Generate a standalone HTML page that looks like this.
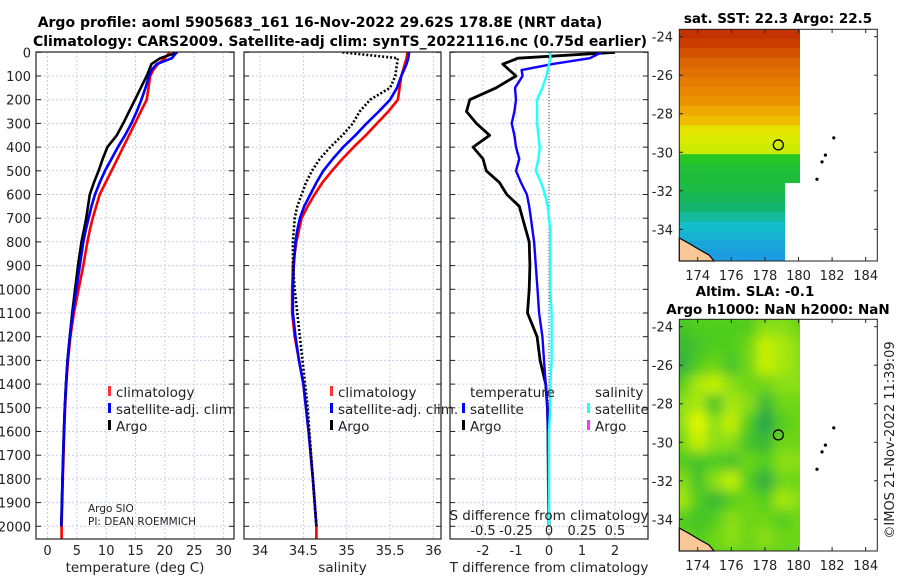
<!DOCTYPE html>
<html><head><meta charset="utf-8">
<style>
html,body{margin:0;padding:0;background:#fff;}
svg{display:block;font-family:"DejaVu Sans","Liberation Sans",sans-serif;}
</style></head>
<body>
<svg id="fig" width="900" height="580" viewBox="0 0 900 580" xmlns="http://www.w3.org/2000/svg">
<defs>
<filter id="blur" x="0" y="0" width="100%" height="100%"><feGaussianBlur stdDeviation="6"/></filter>
<clipPath id="clipSla"><rect x="679" y="319" width="121" height="232"/></clipPath>
<clipPath id="clipP1"><rect x="36" y="52" width="198" height="487"/></clipPath>
<clipPath id="clipP2"><rect x="244" y="52" width="197" height="487"/></clipPath>
<clipPath id="clipP3"><rect x="450" y="52" width="198" height="487"/></clipPath>
</defs>
<g id="grids"></g>
<g id="marks"></g>
<g id="axes"></g>
<g id="maps"></g>
<text x="320" y="27" text-anchor="middle" font-size="14" font-weight="bold">Argo profile: aoml 5905683_161 16-Nov-2022 29.62S 178.8E (NRT data)</text>
<text x="340" y="46" text-anchor="middle" font-size="14" font-weight="bold">Climatology: CARS2009. Satellite-adj clim: synTS_20221116.nc (0.75d earlier)</text>
</svg>
<script>
const depths=[0,25,50,75,100,150,200,250,300,350,400,450,500,550,600,650,700,750,800,900,1000,1100,1200,1300,1400,1500,1600,1800,2000];
const tClim=[20.8,20.0,18.8,18.0,17.5,17.2,16.9,15.9,14.9,13.9,12.9,11.9,10.9,9.9,8.9,8.3,7.7,7.2,6.8,6.1,5.3,4.5,3.9,3.5,3.2,3.0,2.85,2.6,2.4];
const tSat=[22.0,21.2,18.6,17.7,17.3,16.7,16.0,15.2,14.3,13.2,12.0,10.9,9.8,8.9,8.1,7.5,7.0,6.5,6.1,5.5,4.9,4.3,3.8,3.4,3.15,2.95,2.8,2.55,2.35];
const tArgo=[22.2,19.2,17.7,17.3,16.9,15.9,14.9,13.9,12.9,11.8,10.2,9.4,8.7,7.9,7.2,6.9,6.6,6.2,5.8,5.2,4.7,4.2,3.8,3.4,3.15,2.95,2.8,2.55,2.35];
const sClim=[35.70,35.69,35.67,35.65,35.63,35.61,35.59,35.48,35.35,35.22,35.08,34.95,34.83,34.72,34.63,34.55,34.48,34.45,34.42,34.38,34.37,34.37,34.40,34.45,34.50,34.53,34.56,34.61,34.65];
const sSat=[35.72,35.71,35.69,35.66,35.63,35.58,35.50,35.37,35.23,35.10,34.96,34.84,34.73,34.65,34.58,34.51,34.46,34.43,34.41,34.39,34.38,34.38,34.41,34.45,34.50,34.53,34.56,34.61,34.65];
const sArgo=[34.95,35.59,35.58,35.57,35.56,35.50,35.27,35.15,35.07,34.95,34.81,34.69,34.60,34.53,34.48,34.43,34.40,34.39,34.38,34.38,34.40,34.43,34.46,34.49,34.52,34.55,34.57,34.61,34.65];
const tDiffArgo=[2.0,-0.94,-1.4,-1.2,-1.0,-1.6,-2.4,-2.5,-2.2,-1.8,-2.3,-2.0,-1.9,-1.5,-1.28,-0.9,-0.8,-0.7,-0.6,-0.58,-0.6,-0.65,-0.36,-0.27,-0.1,-0.05,-0.03,-0.02,0];
const tDiffSat=[1.6,1.24,0.1,-0.83,-0.8,-1.03,-1.0,-1.05,-1.13,-1.05,-1.0,-0.9,-1.0,-0.85,-0.67,-0.6,-0.55,-0.5,-0.45,-0.4,-0.35,-0.3,-0.2,-0.15,-0.1,-0.05,-0.03,-0.02,-0.01];
const sDiffSat=[0.01,0.01,0.0,-0.01,-0.02,-0.05,-0.09,-0.09,-0.09,-0.08,-0.07,-0.08,-0.1,-0.06,-0.03,-0.01,0.0,0.01,0.01,0.01,0.01,0.02,0.02,0.02,0.01,0.01,0.0,0.0,0.0];
const depthTicks=[0,100,200,300,400,500,600,700,800,900,1000,1100,1200,1300,1400,1500,1600,1700,1800,1900,2000];
const tTicks=[0,5,10,15,20,25,30];
const sTicks=[34,34.5,35,35.5,36];
const tdTicks=[-2,-1,0,1,2];
const sdTicks=[-0.5,-0.25,0,0.25,0.5];
const sdTickLabels=["-0.5","-0.25","0","0.25","0.5"];
const sstLat=[-23.6,-24.1,-24.6,-25.1,-25.6,-26.1,-26.6,-27.1,-27.6,-28.1,-28.6,-29.1,-29.6,-30.1,-30.6,-31.1,-31.6,-32.1,-32.6,-33.1,-33.6,-34.1,-34.6,-35.1];
const sstVal=[25.6,25.4,25.1,24.8,24.6,24.4,24.2,24.0,23.7,23.4,22.9,22.6,22.4,21.3,21.0,20.9,20.8,20.6,20.4,20.1,19.8,19.6,19.4,19.3];
const slaLat=[-24,-25,-26,-27,-28,-29,-30,-31,-32,-33,-34,-35];
const slaLon=[173,174,175,176,177,178,179,180];
const slaGrid=[
[0.4,0.5,0.5,0.5,0.5,0.7,0.7,0.6],
[0.3,0.4,0.5,0.5,0.6,0.9,0.8,0.7],
[0.2,0.5,0.6,0.4,0.6,0.9,0.8,0.7],
[0.5,0.8,0.9,0.7,0.6,0.6,0.7,0.7],
[0.7,0.8,0.4,0.8,0.7,0.3,0.6,0.6],
[0.7,1.0,0.7,0.9,0.5,0.1,0.5,0.6],
[0.6,0.9,0.7,0.7,0.4,0.3,0.6,0.6],
[0.5,0.4,0.5,0.4,0.6,0.5,0.7,0.7],
[0.7,0.4,0.7,0.9,0.5,0.2,0.6,0.6],
[0.8,0.5,0.3,0.5,0.6,0.5,0.8,0.7],
[0.5,0.4,0.5,0.7,0.6,0.6,0.5,0.6],
[0.6,0.5,0.6,0.7,0.6,0.7,0.6,0.6]];
const latTicks=[-24,-26,-28,-30,-32,-34];
const lonTicks=[174,176,178,180,182,184];
const islands=[[182.1,-29.25],[181.6,-30.15],[181.4,-30.5],[181.1,-31.4]];
const argoPos=[178.8,-29.62];

const NS="http://www.w3.org/2000/svg";
function mk(tag,attrs,parent){const e=document.createElementNS(NS,tag);for(const k in attrs)e.setAttribute(k,attrs[k]);parent.appendChild(e);return e;}
const G=document.getElementById('grids'),M=document.getElementById('marks'),A=document.getElementById('axes'),MP=document.getElementById('maps');
const yD=d=>52.3+d*0.237;
const xT=v=>47.5+v*5.87;
const xS=v=>260+(v-34)*86.7;
const xTD=v=>549+v*33;
const xSD=v=>549+v*132;
const panels=[{x0:36,x1:234,ticks:tTicks,f:xT,lab:"temperature (deg C)",name:"temperature"},
{x0:244,x1:441,ticks:sTicks,f:xS,lab:"salinity",name:"salinity"},
{x0:450,x1:648,ticks:tdTicks,f:xTD,lab:"T difference from climatology",name:"difference"}];
panels.forEach((p,i)=>{
  depthTicks.forEach(d=>{const l=mk('line',{x1:p.x0,x2:p.x1,y1:yD(d),y2:yD(d),stroke:'#c8cce8','stroke-width':1,'stroke-dasharray':'2,2'},G);
    
    
    mk('line',{x1:p.x0,x2:p.x0+5,y1:yD(d),y2:yD(d),stroke:'#222'},A);
    mk('line',{x1:p.x1-5,x2:p.x1,y1:yD(d),y2:yD(d),stroke:'#222'},A);
    if(i===0){const t=mk('text',{x:31,y:yD(d)+5,'text-anchor':'end','font-size':13,fill:'#222'},A);t.textContent=d;
      
      }
  });
  p.ticks.forEach((v,j)=>{const x=p.f(v);
    const l=mk('line',{x1:x,x2:x,y1:52,y2:539,stroke:'#c8cce8','stroke-width':1,'stroke-dasharray':'2,2'},G);
    
    
    const t=mk('text',{x:x,y:555,'text-anchor':'middle','font-size':13,fill:'#222'},A);t.textContent=v;
    
    
  });
  const r=mk('rect',{x:p.x0,y:52,width:p.x1-p.x0,height:487,fill:'none',stroke:'#222','stroke-width':1.2},A);
  
  
  const t=mk('text',{x:(p.x0+p.x1)/2,y:572,'text-anchor':'middle','font-size':13.5,fill:'#222'},A);t.textContent=p.lab;
  
  
});
const zl=mk('line',{x1:xTD(0),x2:xTD(0),y1:52,y2:539,stroke:'#444','stroke-width':1,'stroke-dasharray':'1,2'},G);


function series(vals,f,color,w,clip,name,dash,extendTo){
  let pts=vals.map((v,i)=>f(v).toFixed(1)+','+yD(depths[i]).toFixed(1));
  if(extendTo)pts.push(f(vals[vals.length-1]).toFixed(1)+','+extendTo);
  const a={points:pts.join(' '),fill:'none',stroke:color,'stroke-width':w,'stroke-linejoin':'round','clip-path':'url(#'+clip+')'};
  if(dash)a['stroke-dasharray']=dash;
  const e=mk('polyline',a,M);
  
  
}
series(tClim,xT,'#f00',2.6,'clipP1','temperature-climatology-line',null,539);
series(tSat,xT,'#00f',2.6,'clipP1','temperature-satellite-line');
series(tArgo,xT,'#000',2.6,'clipP1','temperature-argo-line');
series(tSat,xT,'#00f',2.2,'clipP1','temperature-satellite-line-top');
series(sClim,xS,'#f00',2.6,'clipP2','salinity-climatology-line',null,539);
series(sSat,xS,'#00f',2.6,'clipP2','salinity-satellite-line');
series(sArgo,xS,'#000',2.6,'clipP2','salinity-argo-line','2,2');
series(tDiffArgo,xTD,'#000',2.8,'clipP3','temperature-diff-argo-line');
series(tDiffSat,xTD,'#10f',2.4,'clipP3','temperature-diff-satellite-line');
series(sDiffSat,xSD,'#2ff',2.4,'clipP3','salinity-diff-satellite-line');
sdTicks.forEach((v,j)=>{const t=mk('text',{x:xSD(v),y:535,'text-anchor':'middle','font-size':13,fill:'#222'},A);t.textContent=sdTickLabels[j];
  
  });
{const t=mk('text',{x:549,y:520,'text-anchor':'middle','font-size':13.5,fill:'#222'},A);t.textContent='S difference from climatology';

}
function legItem(x,y,color,label,name){
  const r=mk('rect',{x:x,y:y-11,width:3,height:10,fill:color},A);
  
  
  const t=mk('text',{x:x+8,y:y,'font-size':13.5,fill:'#222'},A);t.textContent=label;
  
  
}
legItem(108,397,'#f33','climatology','legend-climatology');
legItem(108,414,'#00f','satellite-adj. clim.','legend-satellite');
legItem(108,431,'#000','Argo','legend-argo');
legItem(330,397,'#f33','climatology','legend-s-climatology');
legItem(330,414,'#00f','satellite-adj. clim.','legend-s-satellite');
legItem(330,431,'#000','Argo','legend-s-argo');
legItem(462,414,'#00f','satellite','legend-t-satellite');
legItem(462,431,'#000','Argo','legend-t-argo');
legItem(587,414,'#2ff','satellite','legend-sd-satellite');
legItem(587,431,'#f3f','Argo','legend-sd-argo');
{let t=mk('text',{x:470,y:397,'font-size':13.5,fill:'#222'},A);t.textContent='temperature';


t=mk('text',{x:595,y:397,'font-size':13.5,fill:'#222'},A);t.textContent='salinity';


t=mk('text',{x:88,y:512,'font-size':10.5,fill:'#222'},A);t.textContent='Argo SIO';


t=mk('text',{x:88,y:525,'font-size':10.5,fill:'#222'},A);t.textContent='PI: DEAN ROEMMICH';

}

const mx=lon=>697.7+(lon-174)*16.8;
const my=(lat,y0)=>y0+36.7+(-24-lat)*19.26;
const sstStops=[[19.2,[30,150,230]],[19.8,[20,190,200]],[20.4,[20,180,110]],[20.9,[30,190,60]],[21.4,[40,200,30]],[22.2,[190,235,0]],[22.8,[230,235,0]],[23.5,[240,180,0]],[24.3,[230,130,0]],[25.0,[215,90,0]],[25.6,[195,50,0]]];
function sstColor(v){for(let i=1;i<sstStops.length;i++){if(v<=sstStops[i][0]){const a=sstStops[i-1],b=sstStops[i];const t=Math.max(0,(v-a[0])/(b[0]-a[0]));return 'rgb('+a[1].map((c,k)=>Math.round(c+(b[1][k]-c)*t)).join(',')+')';}}return 'rgb(195,50,0)';}
sstLat.forEach((lat,i)=>{
  const y=my(lat,0);const h=19.26*0.5+0.5;
  const r=mk('rect',{x:679.3,y:i===0?29.3:y,width:120.7,height:i===0?(y+h-29.3):h,fill:sstColor(sstVal[i])},MP);
  
  
});
{const r=mk('rect',{x:785,y:my(-31.6,0),width:16,height:80,fill:'#fff'},MP);

}
const slaG=mk('g',{'clip-path':'url(#clipSla)'},MP);
const slaInner=mk('g',{filter:'url(#blur)'},slaG);
mk('rect',{x:660,y:300,width:160,height:270,fill:'#60d020'},slaInner);
function slaColor(v){const a=[20,150,90],b=[80,205,30],c=[230,250,0];let p,q,t;if(v<0.5){p=a;q=b;t=v/0.5}else{p=b;q=c;t=(v-0.5)/0.5}return 'rgb('+p.map((x,k)=>Math.round(x+(q[k]-x)*t)).join(',')+')';}
slaGrid.forEach((row,i)=>row.forEach((v,j)=>{
  const r=mk('rect',{x:mx(slaLon[j])-8.4,y:my(slaLat[i],290)-9.6,width:16.8,height:19.3,fill:slaColor(v)},slaInner);
  
  
}));
[0,290].forEach((y0,mi)=>{
  const nm=mi===0?'sst':'sla';
  const land=mk('path',{d:`M679.3 ${y0+238} L690 ${y0+244} L700 ${y0+250} L709 ${y0+255} L714 ${y0+261} L679.3 ${y0+261} Z`,fill:'#f8c898',stroke:'#000','stroke-width':1.2},MP);
  
  
  islands.forEach(p=>{const c=mk('circle',{cx:mx(p[0]),cy:my(p[1],y0),r:1.6,fill:'#000'},MP);
    
    });
  const c=mk('circle',{cx:mx(argoPos[0]),cy:my(argoPos[1],y0),r:5,fill:'none',stroke:'#000','stroke-width':1.3},MP);
  
  
  const fr=mk('rect',{x:679.3,y:y0+29.3,width:198,height:231.7,fill:'none',stroke:'#222','stroke-width':1},MP);
  
  
  latTicks.forEach(l=>{const y=my(l,y0);mk('line',{x1:874,x2:877.3,y1:y,y2:y,stroke:'#222'},MP);mk('line',{x1:679.3,x2:683,y1:y,y2:y,stroke:'#222'},MP);
    const t=mk('text',{x:673,y:y+5,'text-anchor':'end','font-size':13,fill:'#222'},MP);t.textContent=l;
    
    });
  lonTicks.forEach(l=>{const x=mx(l);mk('line',{x1:x,x2:x,y1:y0+257,y2:y0+261,stroke:'#222'},MP);mk('line',{x1:x,x2:x,y1:y0+29.3,y2:y0+33,stroke:'#222'},MP);
    const t=mk('text',{x:x,y:y0+280,'text-anchor':'middle','font-size':13,fill:'#222'},MP);t.textContent=l;
    
    });
});
{let t=mk('text',{x:778,y:23,'text-anchor':'middle','font-size':13.5,'font-weight':'bold'},MP);t.textContent='sat. SST: 22.3 Argo: 22.5';


t=mk('text',{x:755,y:296,'text-anchor':'middle','font-size':13.5,'font-weight':'bold'},MP);t.textContent='Altim. SLA: -0.1';


t=mk('text',{x:778,y:314,'text-anchor':'middle','font-size':13.5,'font-weight':'bold'},MP);t.textContent='Argo h1000: NaN h2000: NaN';


t=mk('text',{x:0,y:0,'text-anchor':'middle','font-size':13,fill:'#222',transform:'translate(894,440) rotate(-90)'},MP);t.textContent='©IMOS 21-Nov-2022 11:39:09';

}
</script>
</body></html>
